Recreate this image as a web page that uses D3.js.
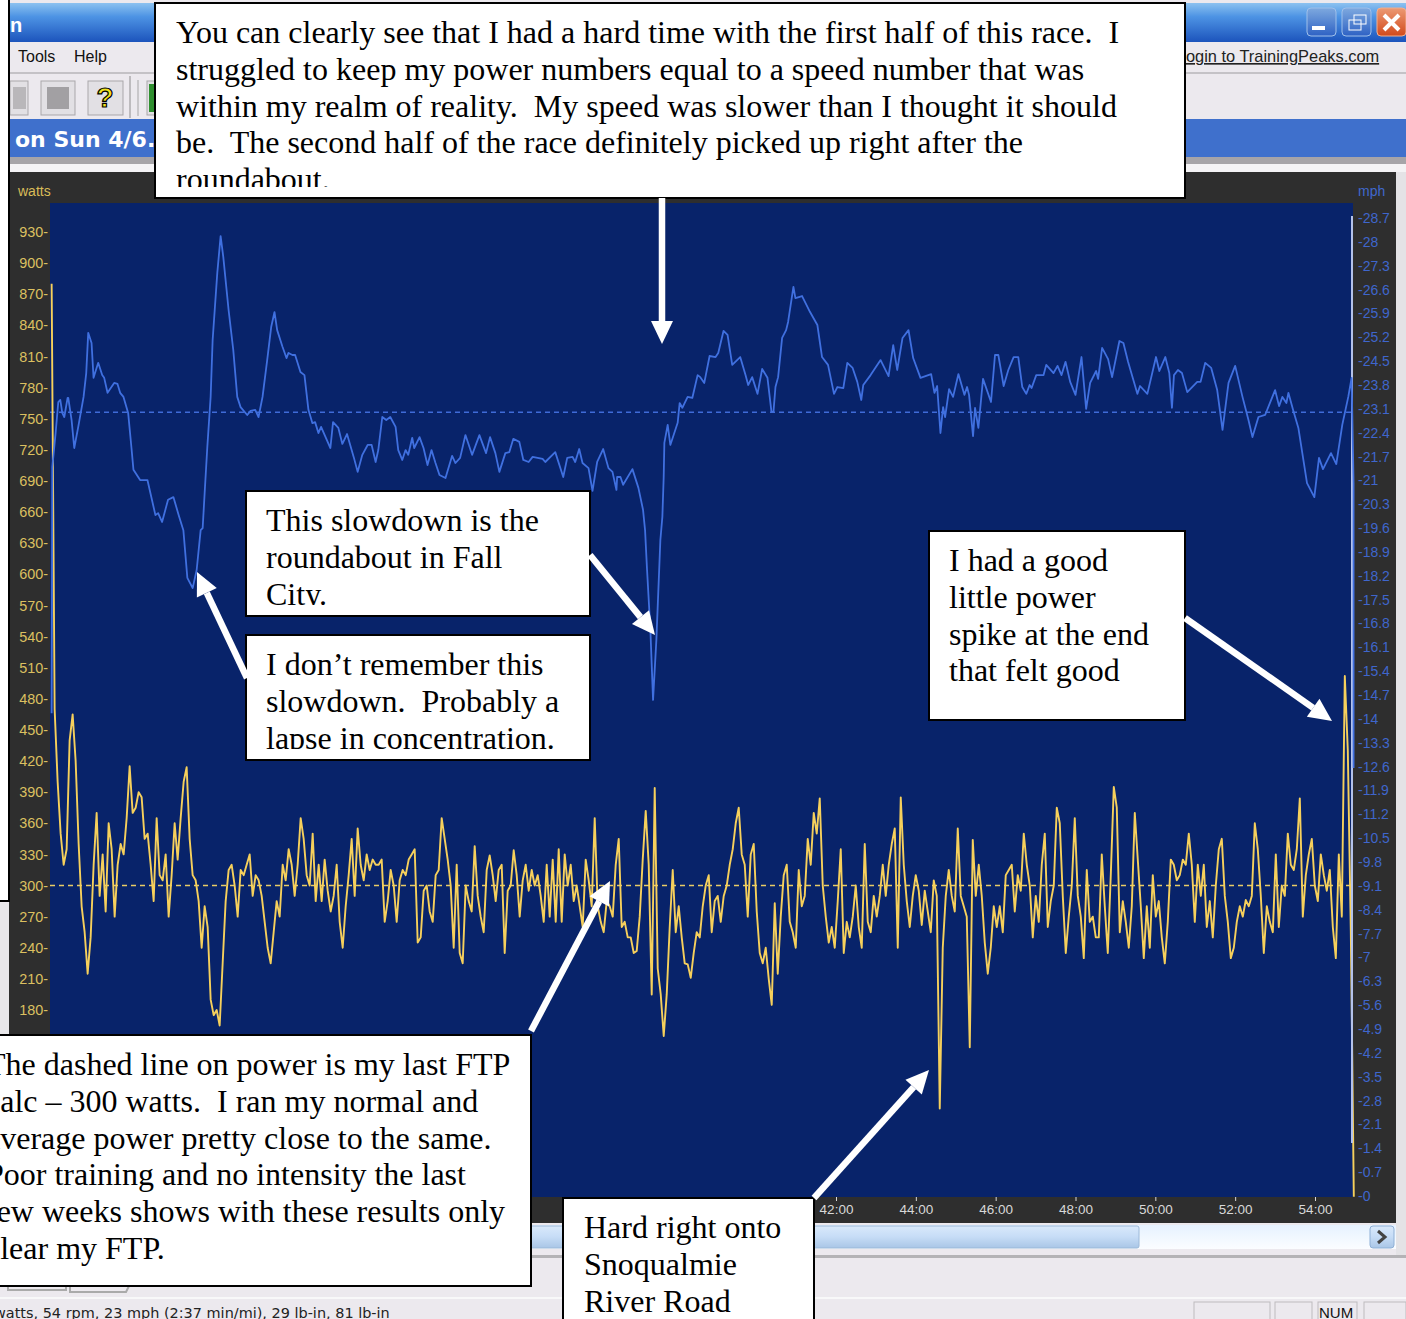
<!DOCTYPE html>
<html>
<head>
<meta charset="utf-8">
<script src="https://cdnjs.cloudflare.com/ajax/libs/d3/7.8.5/d3.min.js"></script>
<style>
  html, body { margin: 0; padding: 0; background: #fff; overflow: hidden; }
  svg { display: block; }
  text { font-family: "Liberation Sans", sans-serif; white-space: pre; }
  .note text { font-family: "Liberation Serif", serif; font-size: 32px; fill: #000; }
</style>
</head>
<body>
<svg id="chart" width="1406" height="1319"></svg>
<script>
// tick labels
const wattTicks = [930,900,870,840,810,780,750,720,690,660,630,600,570,540,510,480,450,420,390,360,330,300,270,240,210,180]
const mphTicks = [28.7,28,27.3,26.6,25.9,25.2,24.5,23.8,23.1,22.4,21.7,21,20.3,19.6,18.9,18.2,17.5,16.8,16.1,15.4,14.7,14,13.3,12.6,11.9,11.2,10.5,9.8,9.1,8.4,7.7,7,6.3,5.6,4.9,4.2,3.5,2.8,2.1,1.4,0.7,0]
const timeTicks = [2520,2640,2760,2880,3000,3120,3240]

const ftpWatts = 300
const avgMph = 23

// speed trace: elapsed seconds and mph
const speedSec = [1341,1342,1347,1351,1354,1357,1360,1365,1366,1371,1375,1381,1389,1393,1396,1401,1404,1411,1417,1420,1425,1435,1440,1444,1449,1456,1461,1464,1474,1485,1497,1501,1507,1516,1524,1532,1539,1545,1553,1559,1565,1568,1571,1575,1580,1583,1590,1595,1599,1607,1614,1620,1625,1635,1640,1647,1652,1658,1665,1671,1676,1680,1688,1694,1697,1703,1707,1715,1721,1727,1733,1737,1742,1746,1760,1764,1772,1778,1785,1795,1801,1808,1816,1822,1828,1832,1838,1844,1850,1858,1862,1868,1873,1877,1883,1886,1894,1900,1906,1912,1918,1924,1933,1943,1948,1955,1963,1973,1984,1994,2000,2008,2014,2023,2029,2035,2044,2050,2058,2064,2079,2083,2098,2110,2116,2124,2128,2134,2139,2148,2154,2161,2170,2178,2184,2190,2191,2196,2200,2214,2223,2230,2233,2236,2241,2245,2250,2256,2259,2261,2262,2267,2271,2282,2285,2289,2297,2304,2312,2316,2322,2330,2339,2343,2351,2357,2364,2376,2384,2388,2394,2402,2409,2417,2423,2426,2429,2433,2439,2445,2448,2456,2459,2469,2481,2492,2499,2508,2517,2522,2531,2537,2545,2552,2558,2561,2572,2587,2599,2606,2612,2620,2629,2636,2647,2663,2668,2672,2677,2681,2684,2690,2696,2704,2713,2717,2720,2726,2729,2734,2741,2753,2759,2764,2772,2779,2787,2794,2800,2806,2811,2814,2821,2832,2836,2847,2853,2859,2865,2872,2880,2889,2896,2902,2911,2914,2920,2929,2935,2946,2952,2959,2973,2977,2988,3001,3006,3015,3021,3025,3028,3034,3040,3048,3063,3068,3075,3084,3093,3101,3110,3120,3131,3140,3146,3155,3165,3180,3186,3191,3197,3200,3207,3215,3228,3239,3246,3252,3264,3272,3281,3290,3295,3298,3298]
const speedMph = [14.17,21.39,22.39,23.30,23.36,22.98,22.86,23.42,23.42,22.77,21.95,22.57,23.45,24.15,25.33,25.03,24.01,24.45,24.09,24.01,23.57,23.86,23.83,23.57,23.45,22.98,21.95,21.31,21.01,21.01,19.98,20.04,19.78,20.43,20.51,19.98,19.54,18.14,17.84,18.37,19.54,19.60,20.63,21.98,23.45,25.12,27.09,28.17,27.56,26.0,24.83,23.45,23.15,22.92,23.04,23.07,22.86,23.45,24.53,25.50,25.94,25.41,24.92,24.59,24.74,24.68,24.68,24.18,24.09,23.07,22.68,22.71,22.39,22.57,21.95,22.71,22.54,22.07,22.36,21.69,21.25,21.75,22.04,22.04,21.54,21.89,22.86,22.77,22.86,22.57,21.89,21.60,21.89,21.75,22.25,21.95,22.27,21.95,21.45,21.89,21.51,21.16,21.07,21.72,21.51,21.66,22.33,21.75,22.33,21.80,22.27,21.80,21.25,21.80,21.83,22.22,22.13,21.60,21.54,21.69,21.63,21.54,21.83,21.10,21.66,21.69,21.54,21.92,21.51,21.36,20.69,21.54,21.92,21.36,21.25,20.72,21.10,21.10,20.87,21.33,20.78,20.13,19.54,18.37,16.61,14.56,16.32,19.25,19.93,21.10,22.10,22.63,22.04,22.69,23.27,23.13,23.45,23.42,24.09,24.03,23.86,24.65,24.62,24.74,25.39,25.27,24.39,24.62,24.09,23.80,24.03,23.54,24.27,24.01,23.01,23.01,23.74,24.03,25.18,25.41,25.65,26.68,26.35,26.41,25.94,25.56,24.62,24.39,23.54,23.74,23.71,24.45,24.30,23.89,23.36,23.80,24.09,24.53,24.06,24.97,24.24,25.18,25.41,24.59,24.01,24.12,23.57,23.77,22.39,23.15,22.86,23.68,23.45,24.12,23.51,23.74,23.51,22.30,23.13,22.54,23.98,23.30,24.68,24.68,23.77,24.24,24.62,24.62,23.74,23.54,23.80,23.71,24.09,24.09,24.39,24.15,24.36,24.09,24.48,23.89,23.51,24.62,23.10,23.86,24.21,23.98,24.89,24.56,24.03,25.09,25.03,24.48,23.54,23.77,23.54,24.62,24.21,24.62,24.15,23.13,24.09,24.24,24.15,23.59,23.89,23.89,24.45,24.30,23.65,22.48,23.86,24.36,23.45,22.77,22.27,22.86,22.92,23.65,23.18,23.45,23.27,23.57,23.07,22.54,20.92,20.51,21.66,21.33,21.80,21.48,22.63,23.45,24.01,20.92,12.56]

// power trace: watts, one reading every 4.51 s from powerStart
const powerStart = 1341
const powerStep = 4.51
const powerWatts = [
  880,470,400,350,320,335,440,465,420,340,280,255,215,250,320,370,290,330,275,360,
  335,270,320,340,330,365,415,370,375,390,385,345,350,320,285,365,310,305,330,270,
  310,360,325,365,400,414,345,310,305,285,240,280,260,190,175,180,165,225,285,315,
  320,300,270,315,310,320,330,290,310,305,290,265,240,225,255,285,270,320,305,335,
  320,290,320,365,345,310,300,350,285,320,285,325,295,275,290,320,265,240,280,310,
  345,290,355,320,305,330,315,325,320,320,325,265,285,315,300,265,305,315,310,325,
  330,335,245,250,295,300,275,265,310,315,365,345,325,300,240,320,235,
  225,300,285,275,338,290,270,255,315,329,310,285,315,320,235,295,300,334,310,270,
  305,320,295,315,300,310,290,265,320,270,325,265,335,265,330,300,320,285,300,280,
  260,325,305,280,365,280,265,255,285,280,270,320,345,260,265,250,250,235,237,270,
  325,372,320,195,394,220,195,155,195,260,315,255,280,250,225,224,211,235,255,250,
  280,300,310,255,285,290,265,290,300,320,335,360,375,330,320,270,330,340,275,235,
  225,240,210,185,283,215,270,310,320,265,255,240,315,280,290,345,320,370,350,384,
  300,270,245,260,240,285,335,235,265,250,270,300,260,240,340,265,255,290,270,290,
  320,290,320,340,355,240,385,320,285,260,290,310,295,
  262,295,275,255,305,290,85,240,290,315,290,275,355,290,280,270,144,344,290,320,
  290,245,215,240,280,260,280,255,310,315,320,275,310,295,350,320,300,250,290,265,
  320,350,260,285,300,375,360,290,235,270,300,365,290,270,230,315,265,270,250,250,
  330,280,235,310,395,375,255,285,265,240,280,370,325,280,230,280,240,310,270,285,
  250,225,265,325,320,305,310,325,320,350,320,265,320,290,320,260,285,250,300,335,
  345,290,265,230,240,265,280,270,286,280,290,360,335,290,235,280,265,255,330,260,
  300,290,350,320,315,335,384,270,310,330,345,300,285,330,310,295,315,260,230,330,
  270,502,430,256,0
]
const powerSec = powerWatts.map((d, i) => powerStart + i * powerStep)

// annotation text
const notes = [
  {box: [155, 3, 1030, 195], tx: 176, ty: 43, lines: ["You can clearly see that I had a hard time with the first half of this race.  I", "struggled to keep my power numbers equal to a speed number that was", "within my realm of reality.  My speed was slower than I thought it should", "be.  The second half of the race definitely picked up right after the", "roundabout."]},
  {box: [246, 491, 344, 125], tx: 266, ty: 531, lines: ["This slowdown is the", "roundabout in Fall", "City."]},
  {box: [246, 635, 344, 125], tx: 266, ty: 675, lines: ["I don’t remember this", "slowdown.  Probably a", "lapse in concentration."]},
  {box: [929, 531, 256, 189], tx: 949, ty: 571, lines: ["I had a good", "little power", "spike at the end", "that felt good"]},
  {box: [-8, 1035, 539, 251], tx: -14, ty: 1075, lines: ["The dashed line on power is my last FTP", "calc – 300 watts.  I ran my normal and", "average power pretty close to the same.", "Poor training and no intensity the last", "few weeks shows with these results only", "clear my FTP."]},
  {box: [563, 1198, 251, 130], tx: 584, ty: 1238, lines: ["Hard right onto", "Snoqualmie", "River Road"]}
]
const arrows = [
  [662, 198, 662, 344],
  [247, 678, 197, 572],
  [590, 555, 655, 635],
  [1185, 618, 1332, 721],
  [531, 1031, 610, 881],
  [814, 1198, 929, 1070]
]

const svg = d3.select("#chart")
const defs = svg.append("defs")

function grad(id, stops) {
  let g = defs.append("linearGradient").attr("id", id).attr("x1", 0).attr("x2", 0).attr("y1", 0).attr("y2", 1)
  stops.forEach(s => g.append("stop").attr("offset", s[0]).attr("stop-color", s[1]))
}
grad("titleGrad", [[0, "#8cc2f0"], [0.35, "#4d93e4"], [1, "#1c54bc"]])
grad("scrollBg", [[0, "#e6f2ff"], [1, "#fbfdff"]])
grad("scrollThumb", [[0, "#d9e9fb"], [0.5, "#c6dcf6"], [1, "#a9c6e6"]])
grad("btnGrad", [[0, "#7ea9df"], [1, "#2e62c4"]])
grad("closeGrad", [[0, "#ec9a74"], [1, "#d24a1c"]])

function rect(x, y, w, h, fill, stroke) {
  return svg.append("rect").attr("x", x).attr("y", y).attr("width", w).attr("height", h)
    .attr("fill", fill).attr("stroke", stroke || "none")
}

// ---- application window behind the chart ----
rect(0, 0, 1406, 1319, "#ece9ee")
rect(9, 3, 1397, 39, "url(#titleGrad)")
svg.append("text").attr("x", 10).attr("y", 32).attr("font-size", 20).attr("font-weight", "bold").attr("fill", "#fff").text("n")

rect(9, 72, 1397, 2, "#c4c2c6")
svg.append("text").attr("x", 18).attr("y", 62).attr("font-size", 16).attr("fill", "#111").text("Tools")
svg.append("text").attr("x", 74).attr("y", 62).attr("font-size", 16).attr("fill", "#111").text("Help")
svg.append("text").attr("x", 1186).attr("y", 62).attr("font-size", 16.4).attr("fill", "#222").attr("text-decoration", "underline").text("ogin to TrainingPeaks.com")

// toolbar buttons
;[[10, 18], [41, 34], [88, 35], [147, 8]].forEach(b => {
  rect(b[0], 81, b[1], 34, "#e2e0e4", "#a9a7aa")
})
rect(47, 87, 22, 22, "#a2a0a3")
rect(13, 87, 13, 22, "#b9b7ba")
rect(129, 76, 2, 42, "#bdbbbe")
rect(137, 80, 2, 36, "#c9c7ca")
rect(149, 84, 6, 28, "#2f8f2f")
svg.append("text").attr("x", 105).attr("y", 107).attr("text-anchor", "middle").attr("font-size", 28).attr("font-weight", "bold")
  .attr("fill", "#f2e21c").attr("stroke", "#000").attr("stroke-width", 1.2).text("?")

// window buttons
rect(1307, 8, 29, 28, "url(#btnGrad)", "#9fc0ea").attr("rx", 4)
rect(1312, 26, 13, 4, "#fff")
rect(1342, 8, 29, 28, "url(#btnGrad)", "#9fc0ea").attr("rx", 4)
rect(1349, 20, 12, 10, "none", "#fff")
rect(1354, 15, 12, 9, "none", "#fff")
rect(1377, 8, 29, 28, "url(#closeGrad)", "#f0b090").attr("rx", 4)
svg.append("path").attr("d", "M1384 15L1399 30M1399 15L1384 30").attr("stroke", "#fff").attr("stroke-width", 4)

// blue title band
rect(9, 119, 1397, 38, "#3f70cc")
svg.append("text").attr("x", 15).attr("y", 147).style("font-family", "'DejaVu Sans'").attr("font-size", 22).attr("font-weight", "bold").attr("fill", "#fff").text("on Sun 4/6.")
rect(9, 157, 1397, 7, "#a6a4a8")
rect(9, 164, 1397, 8, "#f4f3f5")

// dark frame and plot area
rect(9, 172, 1387, 1051, "#2e2e2e")
rect(1396, 172, 10, 1085, "#e4e3e6")
rect(0, 903, 9, 354, "#e8e7ea")
rect(50, 203, 1303, 994, "#08236a")
svg.append("text").attr("x", 18).attr("y", 196).attr("font-size", 14).attr("fill", "#d9bc58").text("watts")
svg.append("text").attr("x", 1358).attr("y", 196).attr("font-size", 14).attr("fill", "#4068cc").text("mph")

// scrollbar
rect(9, 1225, 1387, 24, "url(#scrollBg)")
rect(9, 1226, 1130, 22, "url(#scrollThumb)", "#9db9d8").attr("rx", 2)
rect(1370, 1226, 24, 22, "url(#scrollThumb)", "#8fb0d6").attr("rx", 3)
svg.append("path").attr("d", "M1378 1231L1385 1237L1378 1243").attr("fill", "none").attr("stroke", "#444").attr("stroke-width", 3)
rect(0, 1255, 1406, 3, "#b4b3b6")

// tabs and status bar
svg.append("path").attr("d", "M8 1286V1290H66V1286M70 1286V1292H126L129 1286").attr("fill", "none").attr("stroke", "#aaa").attr("stroke-width", 2)
rect(0, 1297, 1406, 2, "#f8f8f9")
svg.append("text").attr("x", -6).attr("y", 1318).style("font-family", "'DejaVu Sans'").attr("font-size", 14.45).attr("fill", "#222").text("watts, 54 rpm, 23 mph (2:37 min/mi), 29 lb-in, 81 lb-in")
;[[1194, 76], [1275, 37], [1318, 39], [1364, 42]].forEach(b => {
  rect(b[0], 1302, b[1], 24, "none", "#bdbbbe")
})
svg.append("text").attr("x", 1319).attr("y", 1318).attr("font-size", 15).attr("fill", "#111").text("NUM")

// ---- scales ----
let x = d3.scaleLinear().domain([2520, 3240]).range([836, 1315])
let yWatts = d3.scaleLinear().domain([180, 930]).range([1010, 232])
let yMph = d3.scaleLinear().domain([0, 28.7]).range([1196, 218])

// ---- axes ----
let axisW = d3.axisLeft(yWatts).tickValues(wattTicks).tickSize(0).tickPadding(0).tickFormat(d => d + "-")
let axisM = d3.axisRight(yMph).tickValues(mphTicks).tickSize(0).tickPadding(0).tickFormat(d => "-" + d)
let axisT = d3.axisBottom(x).tickValues(timeTicks).tickSize(4).tickPadding(3)
  .tickFormat(d => d3.format("02")(Math.floor(d / 60)) + ":" + d3.format("02")(d % 60))

let gW = svg.append("g").attr("transform", "translate(48,0)").call(axisW)
let gM = svg.append("g").attr("transform", "translate(1358,0)").call(axisM)
let gT = svg.append("g").attr("transform", "translate(0,1197)").call(axisT)
;[gW, gM, gT].forEach(g => g.select(".domain").remove())
gW.selectAll("text").attr("font-size", 14.4).attr("fill", "#dcc060")
gM.selectAll("text").attr("font-size", 14).attr("fill", "#3f66cc")
gT.selectAll("text").attr("font-size", 13.5).attr("fill", "#d8d8d8")
gT.selectAll("line").attr("stroke", "#d8d8d8")

// ---- average lines ----
svg.append("line").attr("x1", 50).attr("x2", 1353).attr("y1", yMph(avgMph)).attr("y2", yMph(avgMph))
  .attr("stroke", "#3f6bd8").attr("stroke-width", 1.4).attr("stroke-dasharray", "5 4")
svg.append("line").attr("x1", 50).attr("x2", 1353).attr("y1", yWatts(ftpWatts)).attr("y2", yWatts(ftpWatts))
  .attr("stroke", "#e8cc66").attr("stroke-width", 1.4).attr("stroke-dasharray", "5 4")

// ---- traces ----
let speedLine = d3.line().x((d, i) => x(speedSec[i])).y(d => yMph(d))
let powerLine = d3.line().x((d, i) => x(powerSec[i])).y(d => yWatts(d))

svg.append("path").datum(powerWatts).attr("d", powerLine).attr("fill", "none")
  .attr("stroke", "#f6d05c").attr("stroke-width", 1.9).attr("stroke-linejoin", "round")

// cursor line on the right edge
svg.append("line").attr("x1", 1352).attr("x2", 1352).attr("y1", 216).attr("y2", 1143)
  .attr("stroke", "#b4c2ea").attr("stroke-width", 2)

svg.append("path").datum(speedMph).attr("d", speedLine).attr("fill", "none")
  .attr("stroke", "#4070e0").attr("stroke-width", 1.8).attr("stroke-linejoin", "round")

// ---- annotation boxes ----
let noteG = svg.selectAll("g.note").data(notes).enter().append("g").attr("class", "note")
noteG.each(function(d, i) {
  let g = d3.select(this)
  let b = d.box
  defs.append("clipPath").attr("id", "noteClip" + i).append("rect")
    .attr("x", b[0]).attr("y", b[1]).attr("width", b[2]).attr("height", b[3] - 11)
  g.append("rect").attr("x", b[0]).attr("y", b[1]).attr("width", b[2]).attr("height", b[3])
    .attr("fill", "#fff").attr("stroke", "#000").attr("stroke-width", 2)
  g.selectAll("text").data(d.lines).enter().append("text")
    .attr("clip-path", "url(#noteClip" + i + ")")
    .attr("x", d.tx).attr("y", (t, j) => d.ty + j * 36.8).text(t => t)
})

// white box cut off at the left edge
rect(0, 0, 8, 900, "#fff")
rect(8, 0, 2, 902, "#000")
rect(0, 900, 9, 2, "#000")

// ---- arrows ----
arrows.forEach(a => {
  let ang = Math.atan2(a[3] - a[1], a[2] - a[0])
  let len = 23, half = 11
  let bx = a[2] - len * Math.cos(ang), by = a[3] - len * Math.sin(ang)
  let px = -Math.sin(ang), py = Math.cos(ang)
  svg.append("line").attr("x1", a[0]).attr("y1", a[1]).attr("x2", bx).attr("y2", by)
    .attr("stroke", "#fff").attr("stroke-width", 6.5)
  svg.append("path").attr("fill", "#fff")
    .attr("d", "M" + a[2] + " " + a[3] + "L" + (bx + px * half) + " " + (by + py * half) + "L" + (bx - px * half) + " " + (by - py * half) + "Z")
})
</script>
</body>
</html>
